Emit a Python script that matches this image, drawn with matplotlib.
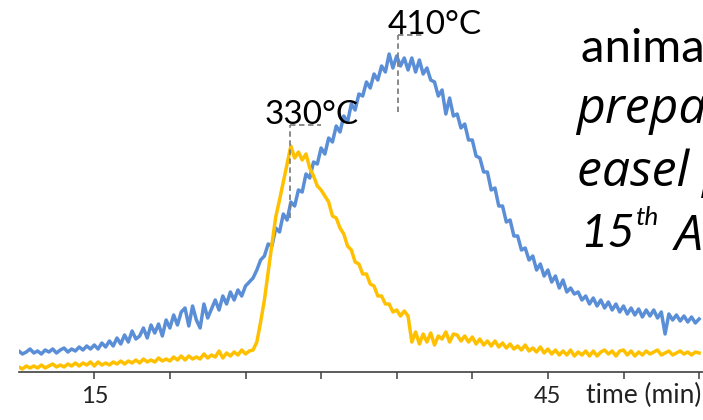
import numpy as np
import matplotlib
matplotlib.use("Agg")
import matplotlib.pyplot as plt

# sampling times (min), every 0.25 min from 10 to 55
time_min = np.arange(10, 55.001, 0.25)

# blue trace (arbitrary intensity units)
blue = [
    21, 18, 20, 23,   19, 21, 18, 22,   20, 23, 19, 22,   24, 20, 23, 21,
    25, 22, 26, 23,   27, 23, 29, 25,   31, 26, 34, 28,   37, 30, 41, 33,
    36, 44, 34, 47,   39, 48, 36, 52,   44, 57, 47, 60,   64, 46, 66, 52,
    44, 68, 54, 63,   72, 62, 76, 68,   80, 72, 82, 76,   86, 90, 94, 102,
    112, 116, 128, 126, 144, 140, 158, 152, 170, 166, 182, 180, 198, 194, 210, 208,
    224, 218, 234, 230, 246, 240, 256, 250, 268, 262, 278, 276, 290, 284, 298, 292,
    306, 300, 318, 304, 316, 306, 314, 302, 314, 300, 312, 298, 304, 292, 290, 276,
    282, 258, 274, 256, 258, 244, 248, 232, 232, 216, 214, 200, 200, 182, 184, 166,
    166, 150, 152, 136, 136, 122, 124, 112, 116, 102, 108, 96, 102, 90, 96, 84,
    92, 80, 84, 78,   80, 72, 76, 68,   74, 66, 72, 64,   70, 62, 68, 60,
    66, 58, 64, 57,   63, 55, 62, 56,   62, 54, 60, 38,   58, 52, 57, 51,
    56, 50, 55, 49,   53,
]

# yellow trace (arbitrary intensity units)
yellow = [
    5, 3, 6, 4,   6, 4, 7, 4,   6, 8, 5, 7,   5, 8, 6, 9,
    6, 9, 7, 10,   6, 10, 7, 9,   7, 10, 8, 11,   8, 11, 9, 12,
    9, 13, 10, 12,   10, 14, 11, 13,   11, 15, 12, 16,   12, 16, 13, 15,
    13, 18, 14, 17,   15, 21, 14, 19,   16, 20, 17, 22,   18, 21, 22, 30,
    50, 72, 100, 128,   155, 172, 190, 208,   226, 214, 220, 212,   218, 204, 196, 186,
    182, 176, 170, 156,   154, 144, 138, 126,   122, 110, 108, 98,   98, 88, 86, 76,
    76, 68, 68, 60,   62, 56, 61, 56,   30, 40, 28, 38,   30, 39, 27, 36,
    33, 40, 30, 38,   37, 31, 36, 30,   35, 28, 33, 27,   31, 26, 31, 25,
    29, 24, 28, 23,   26, 22, 27, 21,   24, 20, 25, 19,   23, 18, 22, 17,
    21, 17, 22, 16,   20, 17, 21, 16,   21, 16, 20, 22,   18, 21, 16, 21,
    22, 17, 21, 16,   20, 17, 21, 18,   20, 22, 17, 19,   21, 17, 19, 21,
    18, 20, 17, 20,   19,
]

tick_positions = [15, 20, 25, 30, 35, 40, 45, 50, 55]
tick_labels = ["15", "", "", "", "", "", "45", "", ""]

# peak annotations
peak_labels = ["330°C", "410°C"]
peak_times = [27.96, 35.07]
peak_line_bottom = [154, 260]
peak_line_top = [247, 337]
peak_hline_end = [29.97, 36.9]
peak_text_x = [26.25, 34.4]

text_lines = ["animal glue", "preparation", "easel painting"]

BLUE = "#5A8ED6"
YELLOW = "#FFC000"
FONT = ["Lato", "DejaVu Sans"]
FONT_IT = ["Open Sans", "DejaVu Sans"]

W, H = 703, 420
fig = plt.figure(figsize=(W / 100, H / 100), dpi=100)
ax_left, ax_right, ax_bottom = 18.7, 703, 372
ax = fig.add_axes([ax_left / W, (H - ax_bottom) / H, (ax_right - ax_left) / W, ax_bottom / H])
ax.set_xlim(10, 10 + (ax_right - ax_left) / 15.12)
ax.set_ylim(0, 372)

ax.plot(time_min, blue, color=BLUE, lw=2.5, solid_joinstyle="round", zorder=2)
ax.plot(time_min, yellow, color=YELLOW, lw=2.5, solid_joinstyle="round", zorder=3)

for lab, tp, yb, yt, he, tx in zip(peak_labels, peak_times, peak_line_bottom,
                                   peak_line_top, peak_hline_end, peak_text_x):
    ax.plot([tp, tp], [yb, yt], color="#808080", lw=1.3, ls=(0, (3, 2)), zorder=4)
    ax.plot([tp, he], [yt, yt], color="#808080", lw=1.3, ls=(0, (3, 2)), zorder=4)
    ax.text(tx, yt + 1, lab, fontsize=24, family=FONT, color="black",
            ha="left", va="baseline", zorder=5)

for s in ["left", "right", "top"]:
    ax.spines[s].set_visible(False)
ax.spines["bottom"].set_color("#404040")
ax.spines["bottom"].set_linewidth(1.2)
ax.set_yticks([])
ax.set_xticks(tick_positions)
ax.set_xticklabels(tick_labels, fontsize=17, family=FONT, color="#222222")
ax.tick_params(axis="x", direction="out", length=5, width=1.1, color="#404040", pad=5)

fig.text(701 / W, 1 - 403 / H, "time (min)", fontsize=19, family=FONT,
         ha="right", va="baseline", color="#222222")

# right-hand text block
fig.text(581 / W, 1 - 62 / H, text_lines[0], fontsize=34, family=FONT,
         ha="left", va="baseline")
fig.text(576 / W, 1 - 123 / H, text_lines[1], fontsize=36, family=FONT_IT,
         style="italic", ha="left", va="baseline")
fig.text(577 / W, 1 - 186 / H, text_lines[2], fontsize=36, family=FONT_IT,
         style="italic", ha="left", va="baseline")
t15 = fig.text(580 / W, 1 - 247 / H, "15", fontsize=34, family=FONT,
               style="italic", ha="left", va="baseline")
ann_th = plt.annotate("th", xy=(1.0, 0.62), xycoords=t15, fontsize=19,
                      family=FONT, style="italic", ha="left", va="bottom",
                      annotation_clip=False)
plt.annotate("AD", xy=(1.0, 0.0), xycoords=ann_th, xytext=(12, -15),
             textcoords="offset points", fontsize=36, family=FONT_IT,
             style="italic", ha="left", va="baseline", annotation_clip=False)

fig.savefig("out.png", dpi=100)
